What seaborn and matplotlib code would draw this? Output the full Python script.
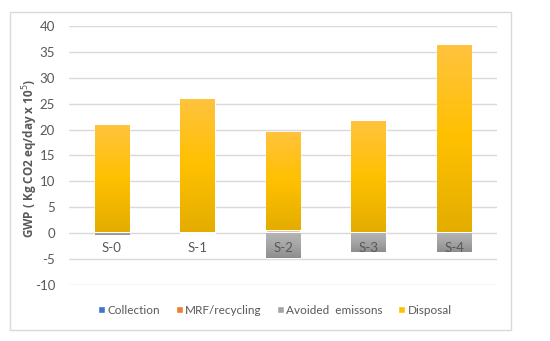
import numpy as np
import pandas as pd
import matplotlib.pyplot as plt
import seaborn as sns
from matplotlib.colors import LinearSegmentedColormap
from matplotlib.patches import Rectangle
from matplotlib.transforms import offset_copy

scenarios = ["S-0", "S-1", "S-2", "S-3", "S-4"]
collection = [0.3, 0.3, 0.3, 0.3, 0.3]
mrf_recycling = [0.0, 0.0, 0.3, 0.0, 0.0]
avoided_emissions = [-0.4, 0.0, -4.7, -3.7, -3.7]
disposal = [20.6, 25.6, 19.0, 21.3, 36.0]

series_names = ["Collection", "MRF/recycling", "Avoided  emissons", "Disposal"]
series_colors = ["#4472C4", "#ED7D31", "#A5A5A5", "#FFC000"]

df = pd.DataFrame({
    "Scenario": scenarios,
    "Collection": collection,
    "MRF": mrf_recycling,
    "Avoided": avoided_emissions,
    "Disposal": disposal,
})

sns.set_style("white")
plt.rcParams["font.family"] = ["Lato", "DejaVu Sans"]
plt.rcParams["axes.unicode_minus"] = False
text_col = "#595959"

fig = plt.figure(figsize=(5.5, 3.41), dpi=100)
ax = fig.add_axes([0.1255, 0.1642, 0.778, 0.7596])

# outer chart frame like in Excel
fig.patches.append(Rectangle((10 / 550, 11 / 341), 501 / 550, 318 / 341,
                             transform=fig.transFigure, fill=False,
                             edgecolor="#D9D9D9", linewidth=1.0, zorder=0))

w = 0.4
sns.barplot(data=df, x="Scenario", y="Collection", color=series_colors[0],
            width=w, label=series_names[0], saturation=1, ax=ax, zorder=3)
sns.barplot(data=df, x="Scenario", y="MRF", bottom=df["Collection"],
            color=series_colors[1], width=w, label=series_names[1],
            saturation=1, ax=ax, zorder=3)
sns.barplot(data=df, x="Scenario", y="Avoided", color=series_colors[2],
            width=w, label=series_names[2], saturation=1, ax=ax, zorder=3)
sns.barplot(data=df, x="Scenario", y="Disposal",
            bottom=df["Collection"] + df["MRF"], color=series_colors[3],
            width=w, label=series_names[3], saturation=1, ax=ax, zorder=3)

# Excel-like gradient fills on the disposal and avoided bars
grad_yellow = LinearSegmentedColormap.from_list("gy", ["#E3AD00", "#FFC000", "#FFC33D"])
grad_gray = LinearSegmentedColormap.from_list("gg", ["#8E8E8E", "#A5A5A5", "#B5B5B5"])
for container, cmap in [(ax.containers[3], grad_yellow), (ax.containers[2], grad_gray)]:
    for bar in container:
        x0, y0 = bar.get_x(), bar.get_y()
        bw, bh = bar.get_width(), bar.get_height()
        if abs(bh) < 1e-9:
            continue
        ylo, yhi = min(y0, y0 + bh), max(y0, y0 + bh)
        grad = np.linspace(0, 1, 100).reshape(-1, 1)
        im = ax.imshow(grad, cmap=cmap, origin="lower", aspect="auto",
                       extent=[x0, x0 + bw, ylo, yhi], zorder=3.5)
        im.set_clip_path(bar)

ax.set_xlim(-0.5, 4.5)
ax.set_ylim(-10, 40)
ax.set_yticks(range(-10, 41, 5))
ax.yaxis.grid(True, color="#D9D9D9", linewidth=1.0, zorder=0)
ax.set_axisbelow(True)
for s in ax.spines.values():
    s.set_visible(False)
ax.tick_params(axis="both", length=0, colors=text_col, labelsize=9.5)
ax.tick_params(axis="y", pad=10)
ax.set_xticklabels([])
ax.set_xlabel("")

# category labels sit just under the zero line, drawn over the bars
lbl_tr = offset_copy(ax.transData, fig=fig, y=-15, units="points")
for i, name in enumerate(scenarios):
    ax.text(i, 0, name, transform=lbl_tr, ha="center", va="bottom",
            fontsize=9.5, color=text_col, zorder=6)

ax.set_ylabel("GWP ( Kg CO2 eq/day x 10$^5$)", color=text_col,
              fontsize=8.5, fontweight="bold", family="Open Sans")
ax.yaxis.set_label_coords(-0.068, 0.49)

handles, labels = ax.get_legend_handles_labels()
if ax.get_legend():
    ax.get_legend().remove()
fig.legend(handles, labels, loc="center", bbox_to_anchor=(0.5, 0.09),
           ncol=4, frameon=False, fontsize=8.5, handlelength=0.6,
           handleheight=0.6, handletextpad=0.2, columnspacing=1.3,
           labelcolor=text_col)

fig.savefig("out.png", dpi=100)
